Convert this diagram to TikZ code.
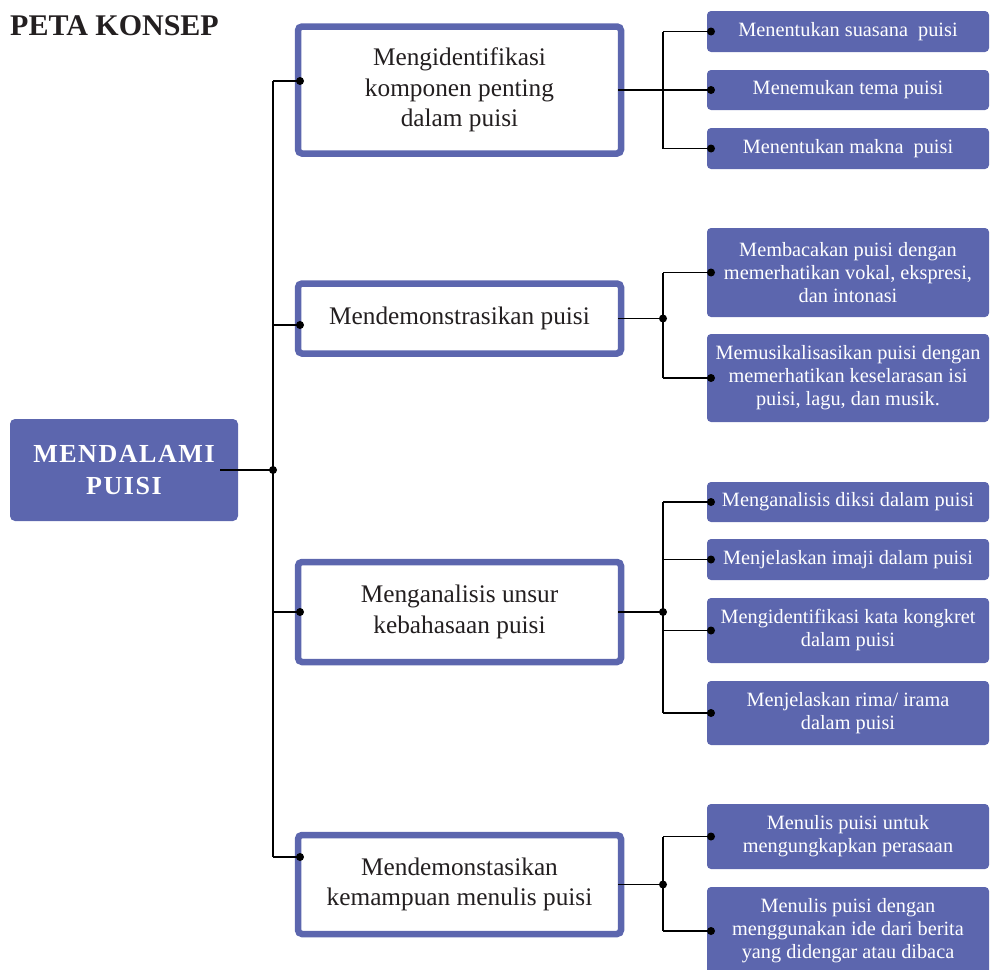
\documentclass[tikz,border=0pt]{standalone}
\usepackage{fontspec}
\setmainfont{Liberation Serif}
\newfontfamily\rootfont[LetterSpace=6]{Liberation Serif}
\usetikzlibrary{calc}
\definecolor{petablue}{RGB}{92,102,174}
\definecolor{petatext}{RGB}{35,31,32}
\tikzset{
  rootbox/.style={fill=petablue,text=white,rounded corners=5pt,minimum width=228pt,minimum height=102pt,inner sep=0pt,align=center,font=\rootfont\bfseries\fontsize{26}{32}\selectfont},
  subbox/.style={draw=petablue,line width=6.5pt,fill=white,text=petatext,rounded corners=4pt,minimum width=323pt,inner sep=0pt,outer sep=0pt,align=center,font=\fontsize{25.3}{30.5}\selectfont},
  leafbox/.style={fill=petablue,text=white,rounded corners=4pt,minimum width=282pt,inner sep=0pt,outer sep=0pt,align=center,font=\fontsize{20.3}{23}\selectfont},
  link/.style={line width=1.9pt},
  joint/.style={fill=black}
}
\begin{document}
\begin{tikzpicture}[x=1pt,y=-1pt]
    \clip (0,0) rectangle (990,969);
    \node[anchor=base west,inner sep=0pt,text=petatext,font=\bfseries\fontsize{30}{36}\selectfont] (judul) at (10,35) {PETA KONSEP};
    \node[rootbox] (root) at (124,470) {MENDALAMI\\PUISI};
    % tengah
    \node[subbox,minimum height=127pt] (komponen) at (459.5,90) {Mengidentifikasi\\komponen penting\\dalam puisi};
    \node[subbox,minimum height=70pt] (demo) at (459.5,318.5) {Mendemonstrasikan puisi};
    \node[subbox,minimum height=100pt] (unsur) at (459.5,612) {Menganalisis unsur\\kebahasaan puisi};
    \node[subbox,minimum height=99pt] (menulis) at (459.5,884.5) {Mendemonstasikan\\kemampuan menulis puisi};
    % kanan
    \node[leafbox,minimum height=41pt] (suasana) at (848,31.5) {Menentukan suasana~ puisi};
    \node[leafbox,minimum height=40pt] (tema) at (848,90) {Menemukan tema puisi};
    \node[leafbox,minimum height=41pt] (makna) at (848,148.5) {Menentukan makna~ puisi};
    \node[leafbox,minimum height=89pt] (vokal) at (848,272.5) {Membacakan puisi dengan\\memerhatikan vokal, ekspresi,\\dan intonasi};
    \node[leafbox,minimum height=88pt] (musik) at (848,378) {Memusikalisasikan puisi dengan\\memerhatikan keselarasan isi\\puisi, lagu, dan musik.};
    \node[leafbox,minimum height=40pt] (diksi) at (848,502) {Menganalisis diksi dalam puisi};
    \node[leafbox,minimum height=41pt] (imaji) at (848,559.5) {Menjelaskan imaji dalam puisi};
    \node[leafbox,minimum height=65pt] (kongkret) at (848,630.5) {Mengidentifikasi kata kongkret\\dalam puisi};
    \node[leafbox,minimum height=64pt] (rima) at (848,713) {Menjelaskan rima/ irama\\dalam puisi};
    \node[leafbox,minimum height=65pt] (perasaan) at (848,836.5) {Menulis puisi untuk\\mengungkapkan perasaan};
    \node[leafbox,minimum height=88pt] (berita) at (848,931) {Menulis puisi dengan\\menggunakan ide dari berita\\yang didengar atau dibaca};

    \coordinate (trunk) at (273,0);
    \coordinate (fork) at (663,0);
    \coordinate (in1) at (300,81);
    \coordinate (in2) at (300,325);
    \coordinate (in3) at (300,612);
    \coordinate (in4) at (300,857);

    \draw[link] ([xshift=-18pt]root.east) -- (root.east -| trunk);
    \fill[joint] (root.east -| trunk) circle (4pt);
    \draw[link] (in1 -| trunk) -- (in4 -| trunk);
    \foreach \c in {in1,in2,in3,in4}{
      \draw[link] (\c -| trunk) -- (\c);
      \fill[joint] (\c) circle (4pt);
    }

    \foreach \b in {komponen,demo,unsur,menulis}
      \draw[link] ([xshift=-3pt]\b.east) -- (\b.east -| fork);
    \draw[link] (suasana.west -| fork) -- (makna.west -| fork);
    \draw[link] (vokal.west -| fork) -- (musik.west -| fork);
    \draw[link] (diksi.west -| fork) -- (rima.west -| fork);
    \draw[link] (perasaan.west -| fork) -- (berita.west -| fork);
    \foreach \l in {suasana,tema,makna,vokal,musik,diksi,imaji,kongkret,rima,perasaan,berita}{
      \draw[link] (\l.west -| fork) -- ([xshift=4pt]\l.west);
      \fill[joint] ([xshift=4pt]\l.west) circle (4pt);
    }
    \fill[joint] (demo.east -| fork) circle (4pt);
    \fill[joint] (unsur.east -| fork) circle (4pt);
    \fill[joint] (menulis.east -| fork) circle (4pt);
\end{tikzpicture}
\end{document}
